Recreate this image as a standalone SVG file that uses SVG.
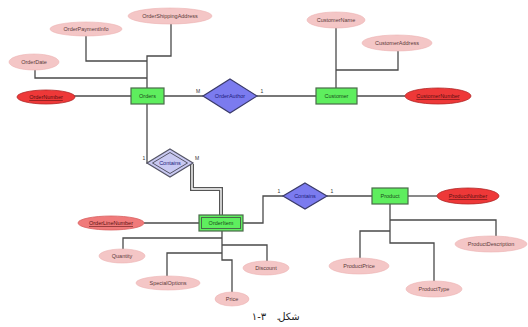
<svg xmlns="http://www.w3.org/2000/svg" width="528" height="327" viewBox="0 0 528 327">
<style>
text{font-family:"Liberation Sans",Arial,sans-serif;font-size:5.5px;text-anchor:middle;dominant-baseline:central}
.ln{fill:none;stroke:#4a4a4a;stroke-width:1.3}
.ent{fill:#5eee5e;stroke:#4a6a4a;stroke-width:1.2}
.rel{fill:#7b7bef;stroke:#3a3a6a;stroke-width:1.2}
.wrel{fill:#c9c9f2;stroke:#555566;stroke-width:1.2}
.att{fill:#f4c6c6;stroke:#ecb4b4;stroke-width:0.6}
.key{fill:#ee3838;stroke:#b02828;stroke-width:0.8}
.pkey{fill:#f07a7a;stroke:#d86060;stroke-width:0.8}
.at{fill:#5a3a3a}
.kt{fill:#5a1010;text-decoration:underline}
.et{fill:#1a4a1a}
.rt{fill:#20207a}
.card{fill:#333;font-size:5px}
.cap{font-family:"DejaVu Sans","Noto Sans",sans-serif;font-size:10px;fill:#222;dominant-baseline:alphabetic}
</style>
<g id="connectors">
<path class="ln" d="M147,88 V56 H171 V24"/>
<path class="ln" d="M86,35 V61 H147"/>
<path class="ln" d="M35,70 V78 H147"/>
<path class="ln" d="M74,96 H131"/>
<path class="ln" d="M164,96 H203"/>
<path class="ln" d="M257,96 H316"/>
<path class="ln" d="M357,96 H405"/>
<path class="ln" d="M336,28 V88"/>
<path class="ln" d="M336,70 H398 V51"/>
<path class="ln" d="M147,104 V163 H148"/>
<path d="M192,164 V189 H221 V215" fill="none" stroke="#555" stroke-width="4"/>
<path d="M192,164 V189 H221 V215" fill="none" stroke="#fff" stroke-width="1.4"/>
<path class="ln" d="M144,223 H199"/>
<path class="ln" d="M243,223 H263 V196 H283"/>
<path class="ln" d="M327,196 H372"/>
<path class="ln" d="M408,196 H437"/>
<path class="ln" d="M390,204 V243 H434 V281"/>
<path class="ln" d="M390,220 H496 V236"/>
<path class="ln" d="M390,231 H360 V258"/>
<path class="ln" d="M222,231 V260 H232 V292"/>
<path class="ln" d="M222,238 H123 V249"/>
<path class="ln" d="M222,245 H267 V261"/>
<path class="ln" d="M222,253 H167 V276"/>
<text class="card" x="198" y="91">M</text>
<text class="card" x="262" y="91">1</text>
<text class="card" x="144" y="158">1</text>
<text class="card" x="197" y="158">M</text>
<text class="card" x="279" y="191">1</text>
<text class="card" x="332" y="191">1</text>
</g>
<g id="Orders"><rect class="ent" x="131" y="88" width="33" height="16"/><text class="et" x="147.5" y="96">Orders</text></g>
<g id="Customer"><rect class="ent" x="316" y="88" width="41" height="16"/><text class="et" x="336.5" y="96">Customer</text></g>
<g id="OrderItem"><rect class="ent" x="199" y="215" width="44" height="16"/><rect x="201.5" y="217.5" width="39" height="11" fill="none" stroke="#4a6a4a" stroke-width="1"/><text class="et" x="221" y="223">OrderItem</text></g>
<g id="Product"><rect class="ent" x="372" y="188" width="36" height="16"/><text class="et" x="390" y="196">Product</text></g>
<g id="OrderAuthor"><polygon class="rel" points="230,79 257,96 230,113 203,96"/><text class="rt" x="230" y="96">OrderAuthor</text></g>
<g id="Contains1"><polygon class="wrel" points="170,149 193,163 170,177 147,163"/><polygon points="170,152.5 187.5,163 170,173.5 152.5,163" fill="none" stroke="#555566" stroke-width="1"/><text class="rt" x="170" y="163">Contains</text></g>
<g id="Contains2"><polygon class="rel" points="305,183 327,196 305,209 283,196"/><text class="rt" x="305" y="196">Contains</text></g>
<g id="OrderShippingAddress"><ellipse class="att" cx="170" cy="16" rx="42" ry="8"/><text class="at" x="170" y="16">OrderShippingAddress</text></g>
<g id="OrderPaymentInfo"><ellipse class="att" cx="86" cy="29" rx="36" ry="7"/><text class="at" x="86" y="29">OrderPaymentInfo</text></g>
<g id="OrderDate"><ellipse class="att" cx="34" cy="62" rx="25" ry="8"/><text class="at" x="34" y="62">OrderDate</text></g>
<g id="OrderNumber"><ellipse class="key" cx="46" cy="97" rx="29" ry="7"/><text class="kt" x="46" y="97">OrderNumber</text></g>
<g id="CustomerName"><ellipse class="att" cx="336" cy="20" rx="29" ry="8"/><text class="at" x="336" y="20">CustomerName</text></g>
<g id="CustomerAddress"><ellipse class="att" cx="397" cy="43" rx="35" ry="8"/><text class="at" x="397" y="43">CustomerAddress</text></g>
<g id="CustomerNumber"><ellipse class="key" cx="438" cy="96" rx="33" ry="8"/><text class="kt" x="438" y="96">CustomerNumber</text></g>
<g id="OrderLineNumber"><ellipse class="pkey" cx="111" cy="223" rx="33" ry="7"/><text class="kt" x="111" y="223">OrderLineNumber</text></g>
<g id="ProductNumber"><ellipse class="key" cx="468" cy="196" rx="31" ry="8"/><text class="kt" x="468" y="196">ProductNumber</text></g>
<g id="ProductDescription"><ellipse class="att" cx="491" cy="244" rx="36" ry="8"/><text class="at" x="491" y="244">ProductDescription</text></g>
<g id="ProductPrice"><ellipse class="att" cx="359" cy="266" rx="30" ry="8"/><text class="at" x="359" y="266">ProductPrice</text></g>
<g id="ProductType"><ellipse class="att" cx="434" cy="289" rx="28" ry="8"/><text class="at" x="434" y="289">ProductType</text></g>
<g id="Quantity"><ellipse class="att" cx="122" cy="256" rx="23" ry="7"/><text class="at" x="122" y="256">Quantity</text></g>
<g id="Discount"><ellipse class="att" cx="266" cy="268" rx="23" ry="7"/><text class="at" x="266" y="268">Discount</text></g>
<g id="SpecialOptions"><ellipse class="att" cx="168" cy="283" rx="32" ry="7"/><text class="at" x="168" y="283">SpecialOptions</text></g>
<g id="Price"><ellipse class="att" cx="232" cy="299" rx="17" ry="7"/><text class="at" x="232" y="299">Price</text></g>
<g id="caption">
<text class="cap" x="259" y="320">۱-۳</text>
<text class="cap" x="278" y="320">.</text>
<text class="cap" x="289" y="320">شکل</text>
</g>
</svg>
